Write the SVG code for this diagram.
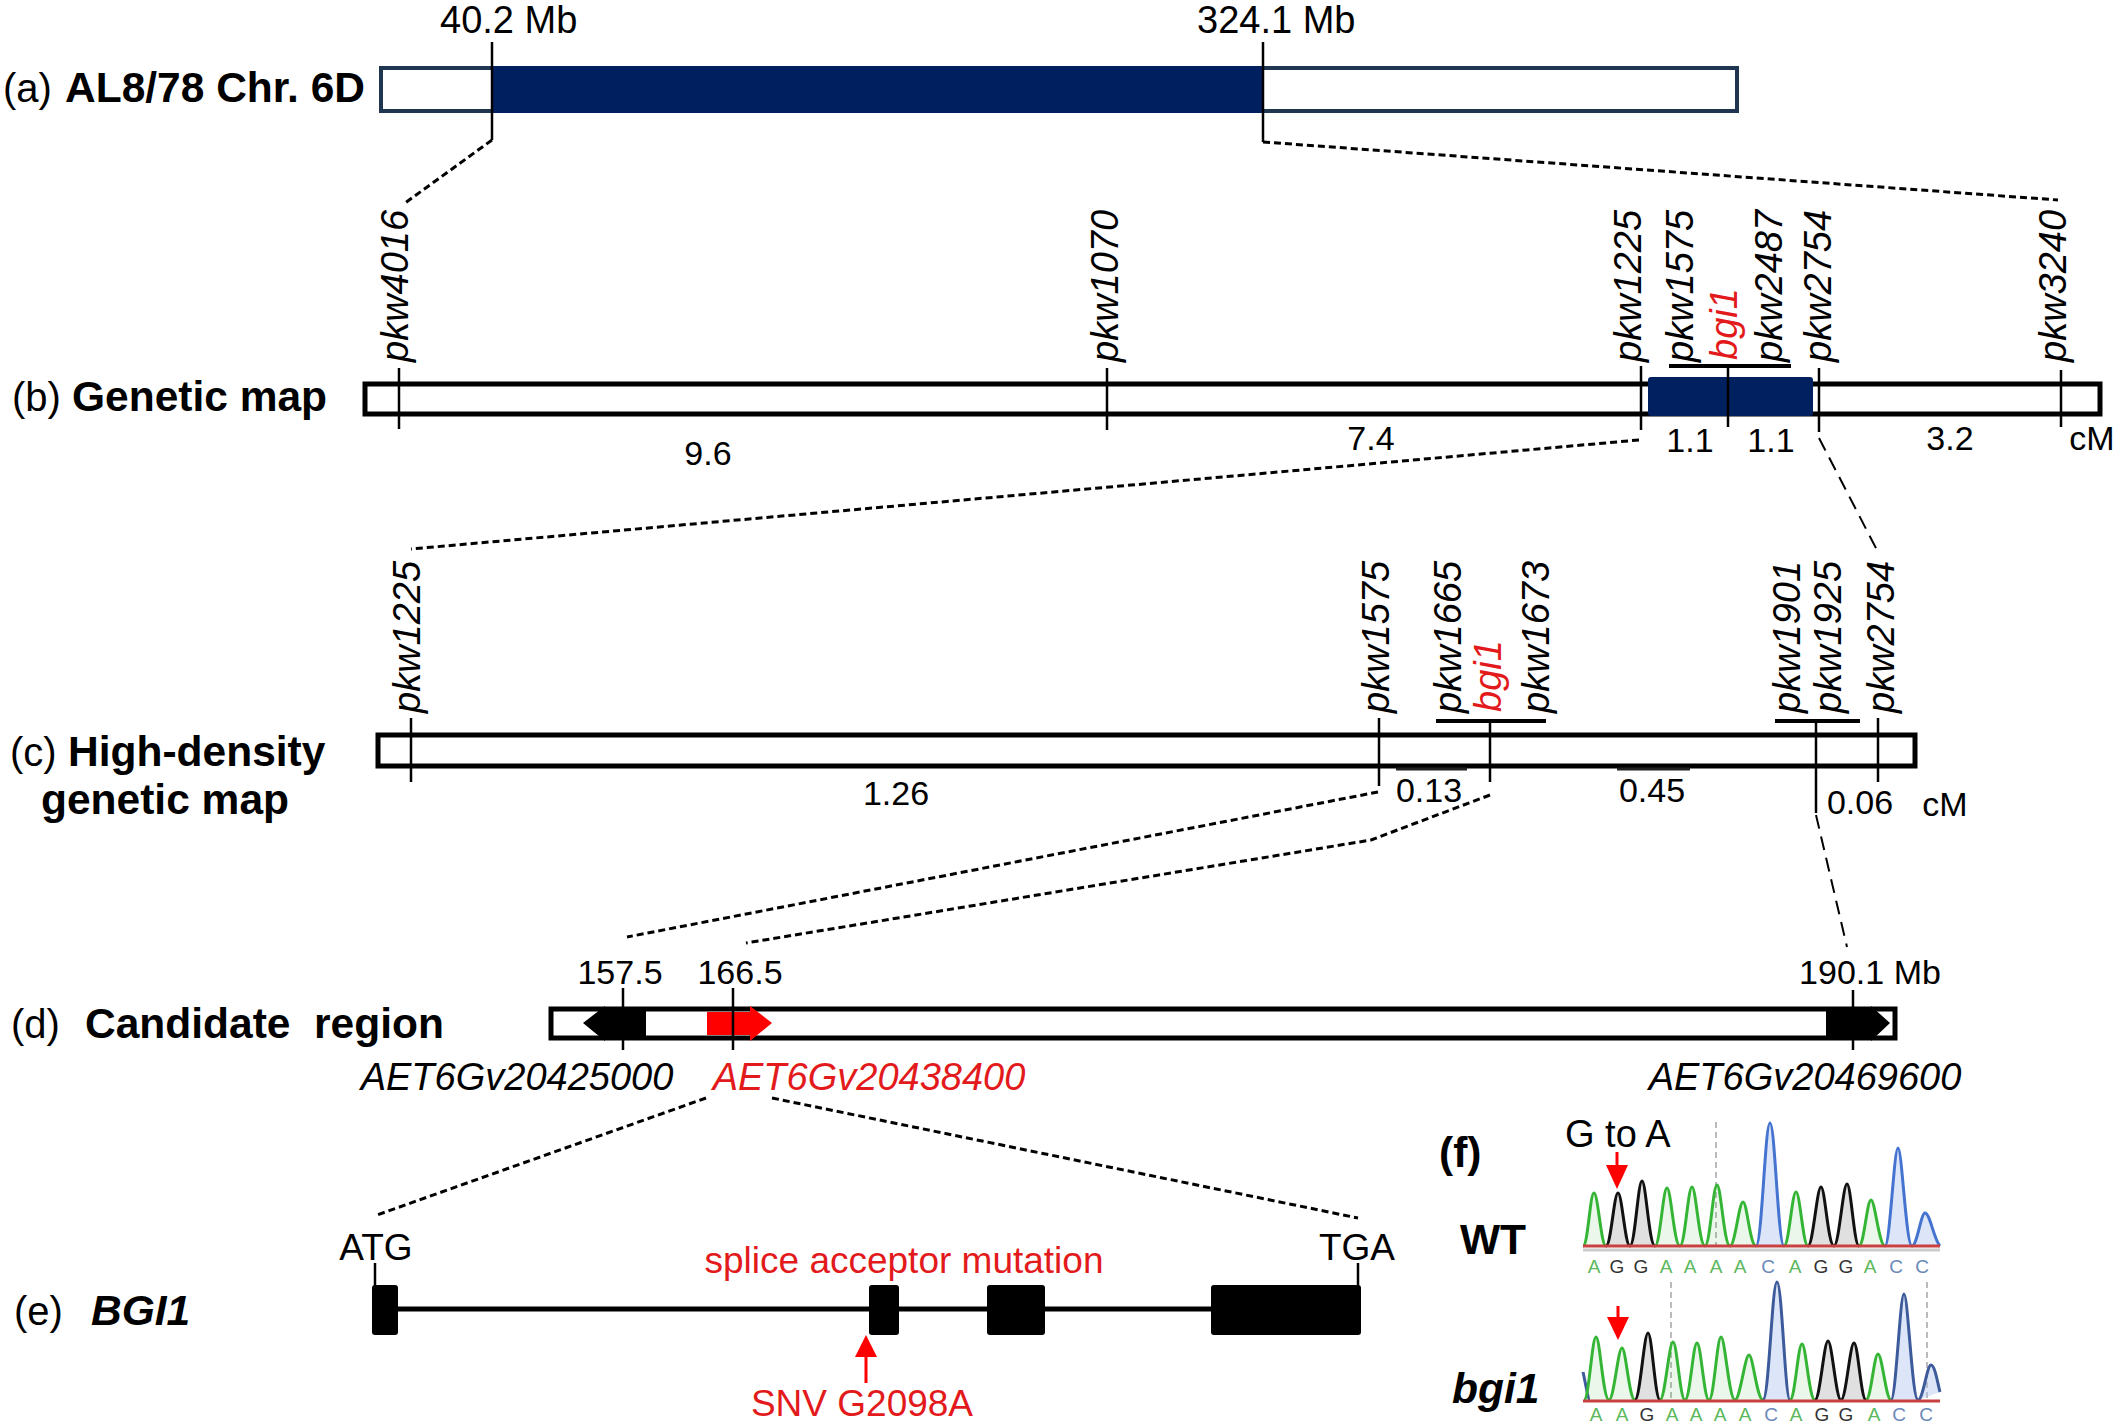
<svg xmlns="http://www.w3.org/2000/svg" width="2128" height="1425" viewBox="0 0 2128 1425">
<style>
text{font-family:"Liberation Sans",Arial,sans-serif;fill:#000}
.lab{font-size:40px}
.bl{font-size:42.5px;font-weight:bold}
.num{font-size:34px;text-anchor:middle}
.mb{font-size:38px}
.mk{font-size:38px;font-style:italic}
.red{fill:#e31a1c}
.gid{font-size:38px;font-style:italic;text-anchor:middle}
.e{font-size:37px;text-anchor:middle}
.tick{stroke:#000;stroke-width:2.5;fill:none}
.brk{stroke:#000;stroke-width:4;fill:none}
.bar{fill:#fff;stroke:#000;stroke-width:5}
.dash{stroke:#000;stroke-width:3;stroke-dasharray:7 4;fill:none}
.ldash{stroke:#000;stroke-width:2;stroke-dasharray:14 8;fill:none}
.pkA{stroke:#35b535;fill:#35b535;fill-opacity:0.1;stroke-width:3}
.pkG{stroke:#111;fill:#999;fill-opacity:0.3;stroke-width:3}
.pkC{stroke:#4473d0;fill:#a9c1ee;fill-opacity:0.4;stroke-width:3}
.pkC2{stroke:#3d5a9a;fill:#a9c1ee;fill-opacity:0.4;stroke-width:3}
.sq{font-size:19px;text-anchor:middle}
.sA{fill:#5cb85c}.sG{fill:#333}.sC{fill:#6a88b8}
.gl{stroke:#bbb;stroke-width:2;stroke-dasharray:6 4}
</style>

<g id="panel-a">
  <text class="lab" x="3" y="102">(a)</text>
  <text class="bl" x="65" y="102">AL8/78 Chr. 6D</text>
  <rect x="381" y="68" width="1356" height="43" fill="#fff" stroke="#1f3550" stroke-width="4"/>
  <rect x="492" y="66" width="771" height="47" fill="#001f5f"/>
  <line class="tick" x1="492" y1="42" x2="492" y2="140"/>
  <line class="tick" x1="1263" y1="42" x2="1263" y2="142"/>
  <text class="mb" x="440" y="33">40.2 Mb</text>
  <text class="mb" x="1197" y="33">324.1 Mb</text>
</g>

<g id="panel-b">
  <text class="lab" x="12" y="411">(b)</text>
  <text class="bl" x="72" y="411">Genetic map</text>
  <rect class="bar" x="365" y="384" width="1735" height="30"/>
  <rect x="1648" y="377" width="165" height="39" rx="3" fill="#002060"/>
  <line class="tick" x1="399" y1="368" x2="399" y2="429"/>
  <line class="tick" x1="1107" y1="368" x2="1107" y2="430"/>
  <line class="tick" x1="1641" y1="366" x2="1641" y2="430"/>
  <line class="tick" x1="1728" y1="366" x2="1728" y2="427"/>
  <line class="tick" x1="1819" y1="368" x2="1819" y2="432"/>
  <line class="tick" x1="2061" y1="370" x2="2061" y2="427"/>
  <line class="brk" x1="1669" y1="366" x2="1791" y2="366"/>
  <text class="mk" transform="translate(408,362) rotate(-90)">pkw4016</text>
  <text class="mk" transform="translate(1118,362) rotate(-90)">pkw1070</text>
  <text class="mk" transform="translate(1641,362) rotate(-90)">pkw1225</text>
  <text class="mk" transform="translate(1693,362) rotate(-90)">pkw1575</text>
  <text class="mk red" transform="translate(1737,360) rotate(-90)">bgi1</text>
  <text class="mk" transform="translate(1782,362) rotate(-90)">pkw2487</text>
  <text class="mk" transform="translate(1831,362) rotate(-90)">pkw2754</text>
  <text class="mk" transform="translate(2066,362) rotate(-90)">pkw3240</text>
  <text class="num" x="708" y="465">9.6</text>
  <text class="num" x="1371" y="450">7.4</text>
  <text class="num" x="1690" y="452">1.1</text>
  <text class="num" x="1771" y="452">1.1</text>
  <text class="num" x="1950" y="450">3.2</text>
  <text class="num" x="2092" y="450">cM</text>
</g>

<g id="panel-c">
  <text class="lab" x="10" y="766">(c)</text>
  <text class="bl" x="68" y="766">High-density</text>
  <text class="bl" x="41" y="814">genetic map</text>
  <rect class="bar" x="378" y="735" width="1537" height="31"/>
  <line class="tick" x1="411" y1="718" x2="411" y2="782"/>
  <line class="tick" x1="1379" y1="718" x2="1379" y2="786"/>
  <line class="tick" x1="1490" y1="721" x2="1490" y2="782"/>
  <line class="tick" x1="1816" y1="721" x2="1816" y2="813"/>
  <line class="tick" x1="1878" y1="718" x2="1878" y2="782"/>
  <line class="brk" x1="1436" y1="721" x2="1546" y2="721"/>
  <line class="brk" x1="1775" y1="721" x2="1860" y2="721"/>
  <line x1="1396" y1="769" x2="1467" y2="769" stroke="#222" stroke-width="3"/>
  <line x1="1617" y1="769" x2="1690" y2="769" stroke="#222" stroke-width="3"/>
  <text class="mk" transform="translate(420,713) rotate(-90)">pkw1225</text>
  <text class="mk" transform="translate(1389,713) rotate(-90)">pkw1575</text>
  <text class="mk" transform="translate(1461,713) rotate(-90)">pkw1665</text>
  <text class="mk red" transform="translate(1501,712) rotate(-90)">bgi1</text>
  <text class="mk" transform="translate(1549,713) rotate(-90)">pkw1673</text>
  <text class="mk" transform="translate(1800,713) rotate(-90)">pkw1901</text>
  <text class="mk" transform="translate(1841,713) rotate(-90)">pkw1925</text>
  <text class="mk" transform="translate(1894,713) rotate(-90)">pkw2754</text>
  <text class="num" x="896" y="805">1.26</text>
  <text class="num" x="1429" y="802">0.13</text>
  <text class="num" x="1652" y="802">0.45</text>
  <text class="num" x="1860" y="814">0.06</text>
  <text class="num" x="1945" y="816">cM</text>
</g>

<g id="panel-d">
  <text class="lab" x="11" y="1038">(d)</text>
  <text class="bl" x="85" y="1038" xml:space="preserve">Candidate  region</text>
  <rect class="bar" x="551" y="1009" width="1344" height="29"/>
  <polygon points="583,1023 605,1006 605,1011 646,1011 646,1036 605,1036 605,1041" fill="#000"/>
  <polygon points="707,1012 750,1012 750,1006 772,1023 750,1041 750,1035 707,1035" fill="#ff0000"/>
  <polygon points="1826,1011 1871,1011 1871,1006 1890,1023 1871,1041 1871,1036 1826,1036" fill="#000"/>
  <line class="tick" x1="623" y1="988" x2="623" y2="1050"/>
  <line class="tick" x1="733" y1="988" x2="733" y2="1050"/>
  <line class="tick" x1="1853" y1="990" x2="1853" y2="1050"/>
  <text class="num" x="620" y="984">157.5</text>
  <text class="num" x="740" y="984">166.5</text>
  <text class="num" x="1870" y="984">190.1 Mb</text>
  <text class="gid" x="517" y="1090">AET6Gv20425000</text>
  <text class="gid red" x="869" y="1090">AET6Gv20438400</text>
  <text class="gid" x="1805" y="1090">AET6Gv20469600</text>
</g>

<g id="panel-e">
  <text class="lab" x="14" y="1325">(e)</text>
  <text class="bl" x="91" y="1325" font-style="italic">BGI1</text>
  <line x1="398" y1="1309" x2="1211" y2="1309" stroke="#000" stroke-width="5"/>
  <line class="tick" x1="375" y1="1263" x2="375" y2="1287" stroke-width="3"/>
  <line class="tick" x1="1358" y1="1263" x2="1358" y2="1287" stroke-width="3"/>
  <rect x="372" y="1285" width="26" height="50" rx="3" fill="#000"/>
  <rect x="869" y="1285" width="30" height="50" rx="3" fill="#000"/>
  <rect x="987" y="1285" width="58" height="50" rx="3" fill="#000"/>
  <rect x="1211" y="1285" width="150" height="50" rx="3" fill="#000"/>
  <text class="e" x="376" y="1260">ATG</text>
  <text class="e" x="1357" y="1260">TGA</text>
  <text class="e red" x="904" y="1273">splice acceptor mutation</text>
  <line x1="866" y1="1383" x2="866" y2="1354" stroke="#ff0000" stroke-width="3"/>
  <polygon points="855,1357 877,1357 866,1335" fill="#ff0000"/>
  <text class="e red" x="862" y="1416">SNV G2098A</text>
</g>

<g id="panel-f">
  <text class="bl" x="1439" y="1167">(f)</text>
  <text class="mb" x="1565" y="1147">G to A</text>
  <text class="bl" x="1460" y="1254">WT</text>
  <text class="bl" x="1452" y="1403" font-style="italic">bgi1</text>
  <g id="chrom-wt">
    <line class="gl" x1="1716" y1="1122" x2="1716" y2="1246"/>
    <path class="pkA" d="M1583,1246 C1588,1246 1590,1193 1594,1193 C1598,1193 1601,1246 1606,1246"/>
    <path class="pkG" d="M1606,1246 C1611,1246 1614,1193 1618,1193 C1622,1193 1625,1246 1630,1246"/>
    <path class="pkG" d="M1630,1246 C1635,1246 1638,1181 1642,1181 C1646,1181 1649,1246 1655,1246"/>
    <path class="pkA" d="M1655,1246 C1660,1246 1663,1188 1667,1188 C1671,1188 1674,1246 1680,1246"/>
    <path class="pkA" d="M1680,1246 C1685,1246 1688,1187 1692,1187 C1696,1187 1699,1246 1705,1246"/>
    <path class="pkA" d="M1705,1246 C1710,1246 1713,1185 1717,1185 C1721,1185 1724,1246 1730,1246"/>
    <path class="pkA" d="M1730,1246 C1735,1246 1739,1202 1743,1202 C1747,1202 1750,1246 1756,1246"/>
    <path class="pkC" d="M1756,1246 C1762,1246 1765,1123 1770,1123 C1775,1123 1778,1246 1784,1246"/>
    <path class="pkA" d="M1784,1246 C1789,1246 1792,1192 1796,1192 C1800,1192 1803,1246 1808,1246"/>
    <path class="pkG" d="M1808,1246 C1813,1246 1817,1187 1821,1187 C1825,1187 1828,1246 1834,1246"/>
    <path class="pkG" d="M1834,1246 C1839,1246 1843,1184 1847,1184 C1851,1184 1854,1246 1859,1246"/>
    <path class="pkA" d="M1859,1246 C1864,1246 1867,1200 1871,1200 C1875,1200 1879,1246 1885,1246"/>
    <path class="pkC" d="M1885,1246 C1890,1246 1894,1148 1898,1148 C1902,1148 1906,1246 1912,1246"/>
    <path class="pkC" d="M1912,1246 C1917,1246 1921,1213 1925,1213 C1930,1213 1934,1240 1940,1246"/>
    <line x1="1583" y1="1246" x2="1940" y2="1246" stroke="#c84040" stroke-width="3"/>
    <line x1="1583" y1="1250" x2="1940" y2="1250" stroke="#ccc" stroke-width="3"/>
    <line x1="1617" y1="1152" x2="1617" y2="1168" stroke="#ff0000" stroke-width="3"/>
    <polygon points="1606,1165 1628,1165 1617,1189" fill="#ff0000"/>
    <text class="sq sA" x="1594" y="1273">A</text>
    <text class="sq sG" x="1617" y="1273">G</text>
    <text class="sq sG" x="1641" y="1273">G</text>
    <text class="sq sA" x="1666" y="1273">A</text>
    <text class="sq sA" x="1690" y="1273">A</text>
    <text class="sq sA" x="1716" y="1273">A</text>
    <text class="sq sA" x="1740" y="1273">A</text>
    <text class="sq sC" x="1768" y="1273">C</text>
    <text class="sq sA" x="1795" y="1273">A</text>
    <text class="sq sG" x="1821" y="1273">G</text>
    <text class="sq sG" x="1846" y="1273">G</text>
    <text class="sq sA" x="1870" y="1273">A</text>
    <text class="sq sC" x="1896" y="1273">C</text>
    <text class="sq sC" x="1922" y="1273">C</text>
  </g>
  <g id="chrom-bgi1">
    <line class="gl" x1="1671" y1="1282" x2="1671" y2="1400"/>
    <line class="gl" x1="1927" y1="1282" x2="1927" y2="1400"/>
    <path class="pkC2" d="M1583,1372 C1586,1385 1588,1400 1590,1400" fill="none"/>
    <path class="pkA" d="M1584,1400 C1589,1400 1592,1337 1596,1337 C1600,1337 1603,1400 1609,1400"/>
    <path class="pkA" d="M1609,1400 C1614,1400 1618,1348 1622,1348 C1626,1348 1629,1400 1635,1400"/>
    <path class="pkG" d="M1635,1400 C1640,1400 1644,1333 1648,1333 C1652,1333 1655,1400 1660,1400"/>
    <path class="pkA" d="M1660,1400 C1665,1400 1669,1342 1673,1342 C1677,1342 1680,1400 1685,1400"/>
    <path class="pkA" d="M1685,1400 C1690,1400 1693,1343 1697,1343 C1701,1343 1704,1400 1709,1400"/>
    <path class="pkA" d="M1709,1400 C1714,1400 1717,1337 1721,1337 C1725,1337 1729,1400 1735,1400"/>
    <path class="pkA" d="M1735,1400 C1740,1400 1745,1355 1749,1355 C1753,1355 1757,1400 1763,1400"/>
    <path class="pkC2" d="M1763,1400 C1769,1400 1772,1282 1777,1282 C1782,1282 1785,1400 1790,1400"/>
    <path class="pkA" d="M1790,1400 C1795,1400 1798,1344 1802,1344 C1806,1344 1809,1400 1815,1400"/>
    <path class="pkG" d="M1815,1400 C1820,1400 1824,1341 1828,1341 C1832,1341 1836,1400 1841,1400"/>
    <path class="pkG" d="M1841,1400 C1846,1400 1850,1343 1854,1343 C1858,1343 1861,1400 1866,1400"/>
    <path class="pkA" d="M1866,1400 C1871,1400 1874,1354 1878,1354 C1882,1354 1886,1400 1891,1400"/>
    <path class="pkC2" d="M1891,1400 C1896,1400 1900,1294 1904,1294 C1908,1294 1912,1400 1918,1400"/>
    <path class="pkC2" d="M1918,1400 C1923,1400 1927,1365 1931,1365 C1935,1365 1938,1385 1940,1392"/>
    <line x1="1583" y1="1401" x2="1940" y2="1401" stroke="#c84040" stroke-width="3"/>
    <line x1="1618" y1="1306" x2="1618" y2="1320" stroke="#ff0000" stroke-width="3"/>
    <polygon points="1607,1317 1629,1317 1618,1340" fill="#ff0000"/>
    <text class="sq sA" x="1596" y="1421">A</text>
    <text class="sq sA" x="1622" y="1421">A</text>
    <text class="sq sG" x="1647" y="1421">G</text>
    <text class="sq sA" x="1672" y="1421">A</text>
    <text class="sq sA" x="1696" y="1421">A</text>
    <text class="sq sA" x="1720" y="1421">A</text>
    <text class="sq sA" x="1745" y="1421">A</text>
    <text class="sq sC" x="1771" y="1421">C</text>
    <text class="sq sA" x="1796" y="1421">A</text>
    <text class="sq sG" x="1822" y="1421">G</text>
    <text class="sq sG" x="1846" y="1421">G</text>
    <text class="sq sA" x="1874" y="1421">A</text>
    <text class="sq sC" x="1899" y="1421">C</text>
    <text class="sq sC" x="1926" y="1421">C</text>
  </g>
</g>

<g id="connectors">
  <line class="dash" x1="492" y1="140" x2="405" y2="203"/>
  <line class="dash" x1="1263" y1="142" x2="2058" y2="200"/>
  <line class="dash" x1="1639" y1="440" x2="411" y2="549"/>
  <line class="ldash" x1="1819" y1="438" x2="1878" y2="552"/>
  <line class="dash" x1="1378" y1="792" x2="627" y2="937"/>
  <polyline class="dash" points="1490,795 1371,840 746,943"/>
  <line class="ldash" x1="1816" y1="815" x2="1847" y2="947"/>
  <line class="dash" x1="706" y1="1098" x2="377" y2="1215"/>
  <line class="dash" x1="772" y1="1098" x2="1358" y2="1218"/>
</g>
</svg>
